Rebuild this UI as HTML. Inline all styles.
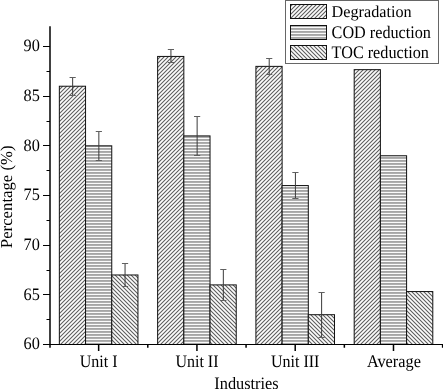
<!DOCTYPE html>
<html><head><meta charset="utf-8"><style>
html,body{margin:0;padding:0;background:#fff;width:443px;height:389px;overflow:hidden}
.t{font-family:"Liberation Serif",serif;font-size:16px;fill:#000;text-rendering:geometricPrecision}
</style></head><body>
<svg width="443" height="389" viewBox="0 0 443 389" style="display:block;will-change:transform">
<defs>
<pattern id="pd" patternUnits="userSpaceOnUse" width="4" height="4"><rect x="0" y="0" width="1" height="1" fill="#646464"/><rect x="1" y="0" width="1" height="1" fill="#d0d0d0"/><rect x="2" y="0" width="1" height="1" fill="#fcfcfc"/><rect x="3" y="0" width="1" height="1" fill="#d0d0d0"/><rect x="0" y="1" width="1" height="1" fill="#d0d0d0"/><rect x="1" y="1" width="1" height="1" fill="#fcfcfc"/><rect x="2" y="1" width="1" height="1" fill="#d0d0d0"/><rect x="3" y="1" width="1" height="1" fill="#646464"/><rect x="0" y="2" width="1" height="1" fill="#fcfcfc"/><rect x="1" y="2" width="1" height="1" fill="#d0d0d0"/><rect x="2" y="2" width="1" height="1" fill="#646464"/><rect x="3" y="2" width="1" height="1" fill="#d0d0d0"/><rect x="0" y="3" width="1" height="1" fill="#d0d0d0"/><rect x="1" y="3" width="1" height="1" fill="#646464"/><rect x="2" y="3" width="1" height="1" fill="#d0d0d0"/><rect x="3" y="3" width="1" height="1" fill="#fcfcfc"/></pattern>
<pattern id="pt" patternUnits="userSpaceOnUse" width="4" height="4"><rect x="0" y="0" width="1" height="1" fill="#646464"/><rect x="1" y="0" width="1" height="1" fill="#d0d0d0"/><rect x="2" y="0" width="1" height="1" fill="#fcfcfc"/><rect x="3" y="0" width="1" height="1" fill="#d0d0d0"/><rect x="0" y="1" width="1" height="1" fill="#d0d0d0"/><rect x="1" y="1" width="1" height="1" fill="#646464"/><rect x="2" y="1" width="1" height="1" fill="#d0d0d0"/><rect x="3" y="1" width="1" height="1" fill="#fcfcfc"/><rect x="0" y="2" width="1" height="1" fill="#fcfcfc"/><rect x="1" y="2" width="1" height="1" fill="#d0d0d0"/><rect x="2" y="2" width="1" height="1" fill="#646464"/><rect x="3" y="2" width="1" height="1" fill="#d0d0d0"/><rect x="0" y="3" width="1" height="1" fill="#d0d0d0"/><rect x="1" y="3" width="1" height="1" fill="#fcfcfc"/><rect x="2" y="3" width="1" height="1" fill="#d0d0d0"/><rect x="3" y="3" width="1" height="1" fill="#646464"/></pattern>
<pattern id="ph" patternUnits="userSpaceOnUse" width="1" height="3"><rect x="0" y="0" width="1" height="1" fill="#fafafa"/><rect x="0" y="1" width="1" height="1" fill="#a5a5a5"/><rect x="0" y="2" width="1" height="1" fill="#afafaf"/></pattern>
</defs>
<rect width="443" height="389" fill="#fff"/>
<rect x="59.35" y="86.23" width="26.20" height="258.27" fill="url(#pd)" stroke="#111" stroke-width="1.0"/>
<rect x="85.55" y="145.83" width="26.20" height="198.67" fill="url(#ph)" stroke="#111" stroke-width="1.0"/>
<rect x="111.75" y="274.97" width="26.20" height="69.53" fill="url(#pt)" stroke="#111" stroke-width="1.0"/>
<rect x="157.63" y="56.43" width="26.20" height="288.07" fill="url(#pd)" stroke="#111" stroke-width="1.0"/>
<rect x="183.83" y="135.90" width="26.20" height="208.60" fill="url(#ph)" stroke="#111" stroke-width="1.0"/>
<rect x="210.03" y="284.90" width="26.20" height="59.60" fill="url(#pt)" stroke="#111" stroke-width="1.0"/>
<rect x="255.91" y="66.37" width="26.20" height="278.13" fill="url(#pd)" stroke="#111" stroke-width="1.0"/>
<rect x="282.11" y="185.57" width="26.20" height="158.93" fill="url(#ph)" stroke="#111" stroke-width="1.0"/>
<rect x="308.31" y="314.70" width="26.20" height="29.80" fill="url(#pt)" stroke="#111" stroke-width="1.0"/>
<rect x="354.19" y="69.65" width="26.20" height="274.85" fill="url(#pd)" stroke="#111" stroke-width="1.0"/>
<rect x="380.39" y="155.77" width="26.20" height="188.73" fill="url(#ph)" stroke="#111" stroke-width="1.0"/>
<rect x="406.59" y="291.56" width="26.20" height="52.94" fill="url(#pt)" stroke="#111" stroke-width="1.0"/>
<path d="M72.65,77.5 V95.5 M98.85,131.5 V160.5 M125.05,263.5 V286.5 M170.93,49.5 V62.5 M197.13,116.5 V155.5 M223.33,269.5 V300.5 M269.21,58.5 V74.5 M295.41,172.5 V198.5 M321.61,292.5 V337.5" stroke="#3a3a3a" stroke-width="1" fill="none"/>
<path d="M69.55,77.5 H75.75 M69.55,95.5 H75.75 M95.75,131.5 H101.95 M95.75,160.5 H101.95 M121.95,263.5 H128.15 M121.95,286.5 H128.15 M167.83,49.5 H174.03 M167.83,62.5 H174.03 M194.03,116.5 H200.23 M194.03,155.5 H200.23 M220.23,269.5 H226.43 M220.23,300.5 H226.43 M266.11,58.5 H272.31 M266.11,74.5 H272.31 M292.31,172.5 H298.51 M292.31,198.5 H298.51 M318.51,292.5 H324.71 M318.51,337.5 H324.71" stroke="#606060" stroke-width="1" fill="none"/>
<path d="M50,26.2 V347.8" stroke="#111" stroke-width="1.6" fill="none"/>
<path d="M49.51,344.5 H443" stroke="#000" stroke-width="1.15" fill="none"/>
<path d="M43,344.50 H50 M43,294.50 H50 M43,245.50 H50 M43,195.50 H50 M43,145.50 H50 M43,96.50 H50 M43,46.50 H50 M46.5,319.50 H50 M46.5,270.50 H50 M46.5,220.50 H50 M46.5,170.50 H50 M46.5,121.50 H50 M46.5,71.50 H50" stroke="#000" stroke-width="1" fill="none"/>
<path d="M98.65,344.5 V351.0 M196.93,344.5 V351.0 M295.21,344.5 V351.0 M393.49,344.5 V351.0 M147.79,344.5 V347.8 M246.07,344.5 V347.8 M344.35,344.5 V347.8 M442.63,344.5 V347.8" stroke="#000" stroke-width="1.5" fill="none"/>
<text transform="translate(39.8,349.40) scale(1,1.07)" text-anchor="end" class="t" style="font-size:16.3px">60</text>
<text transform="translate(39.8,299.73) scale(1,1.07)" text-anchor="end" class="t" style="font-size:16.3px">65</text>
<text transform="translate(39.8,250.07) scale(1,1.07)" text-anchor="end" class="t" style="font-size:16.3px">70</text>
<text transform="translate(39.8,200.40) scale(1,1.07)" text-anchor="end" class="t" style="font-size:16.3px">75</text>
<text transform="translate(39.8,150.73) scale(1,1.07)" text-anchor="end" class="t" style="font-size:16.3px">80</text>
<text transform="translate(39.8,101.07) scale(1,1.07)" text-anchor="end" class="t" style="font-size:16.3px">85</text>
<text transform="translate(39.8,51.40) scale(1,1.07)" text-anchor="end" class="t" style="font-size:16.3px">90</text>
<text transform="translate(98.65,367.3) scale(1,1.09)" text-anchor="middle" class="t" style="font-size:16px">Unit I</text>
<text transform="translate(196.93,367.3) scale(1,1.09)" text-anchor="middle" class="t" style="font-size:16px">Unit II</text>
<text transform="translate(295.21,367.3) scale(1,1.09)" text-anchor="middle" class="t" style="font-size:16px">Unit III</text>
<text transform="translate(393.89,367.3) scale(1,1.09)" text-anchor="middle" class="t" style="font-size:16.3px">Average</text>
<text transform="translate(246.5,389) scale(1.02,1.09)" text-anchor="middle" class="t">Industries</text>
<text transform="translate(12.1,196.8) rotate(-90)" text-anchor="middle" class="t" style="font-size:16.76px">Percentage (%)</text>
<rect x="285.5" y="0.5" width="153" height="63" fill="#fff" stroke="#666" stroke-width="1"/>
<rect x="290.5" y="4.50" width="36" height="14" fill="url(#pd)" stroke="#111" stroke-width="1"/>
<text transform="translate(331.6,17.00) scale(1,1.02)" class="t" style="font-size:16.2px">Degradation</text>
<rect x="290.5" y="25.50" width="36" height="14" fill="url(#ph)" stroke="#111" stroke-width="1"/>
<text transform="translate(331.6,37.90) scale(1,1.09)" class="t" style="font-size:16.2px">COD reduction</text>
<rect x="290.5" y="45.50" width="36" height="14" fill="url(#pt)" stroke="#111" stroke-width="1"/>
<text transform="translate(331.6,58.40) scale(1,1.09)" class="t" style="font-size:16.2px">TOC reduction</text>
</svg>
</body></html>
